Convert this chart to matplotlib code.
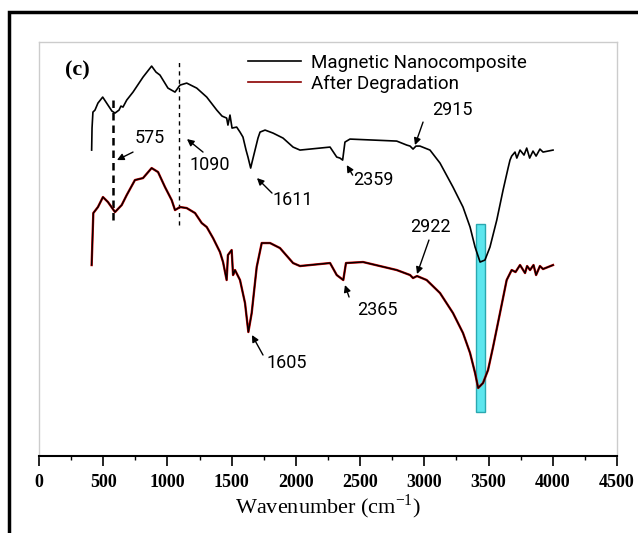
import matplotlib.pyplot as plt
from matplotlib.patches import Rectangle
from matplotlib.ticker import MultipleLocator

plt.rcParams['mathtext.fontset'] = 'custom'
plt.rcParams['mathtext.rm'] = 'Liberation Serif'

# Magnetic Nanocomposite (upper trace)
wn_mag = [410, 413, 420, 436, 459, 496, 537, 568, 592, 623, 638, 654, 683, 732, 810, 877, 911,
          942, 1004, 1059, 1098, 1150, 1228, 1306, 1384, 1425, 1461, 1471, 1487, 1503, 1539,
          1565, 1588, 1612, 1627, 1648, 1659, 1682, 1705, 1721, 1760, 1822, 1900, 1978, 2032,
          2266, 2318, 2343, 2364, 2382, 2421, 2785, 2863, 2889, 2912, 2935, 2966, 3044, 3122,
          3223, 3301, 3356, 3395, 3434, 3472, 3511, 3564, 3613, 3652, 3667, 3680, 3706, 3720,
          3745, 3776, 3797, 3820, 3846, 3870, 3900, 3924, 4002]
t_mag = [306, 328, 344, 346, 353, 359, 351, 345, 343, 346, 350, 349, 356, 364, 379, 390, 384,
         381, 368, 364, 371, 373, 368, 359, 346, 340, 338, 331, 341, 328, 329,
         324, 319, 306, 299, 288, 294, 306, 318, 324, 326, 323, 318, 309, 306,
         309, 299, 298, 296, 314, 317, 315, 311, 310, 307, 310, 310, 306, 293,
         269, 249, 229, 209, 194, 196, 209, 236, 266, 288, 296, 300, 304, 298,
         306, 301, 308, 298, 305, 300, 307, 304, 306]

# After Degradation (lower trace)
wn_deg = [410, 418, 423, 459, 498, 537, 592, 644, 683, 747, 810, 877, 927, 981, 1033, 1059,
          1098, 1150, 1215, 1267, 1306, 1355, 1409, 1433, 1461, 1471, 1500, 1511, 1526, 1565,
          1604, 1630, 1656, 1695, 1734, 1799, 1876, 1978, 2032, 2266, 2318, 2369, 2390, 2523,
          2785, 2889, 2912, 2943, 3018, 3122, 3223, 3301, 3356, 3395, 3419, 3457, 3496, 3535,
          3589, 3641, 3680, 3710, 3745, 3784, 3800, 3823, 3850, 3870, 3900, 3924, 4002]
t_deg = [191, 223, 243, 249, 259, 254, 244, 251, 261, 276, 278, 288, 284, 269, 256, 246,
         249, 248, 243, 233, 229, 218, 204, 194, 176, 201, 206, 181, 186, 176,
         153, 124, 143, 189, 213, 213, 208, 193, 190, 193, 181, 176, 193, 194,
         186, 181, 178, 180, 176, 163, 143, 123, 103, 83, 68, 73, 86, 109,
         143, 176, 186, 184, 191, 183, 190, 186, 191, 181, 190, 187, 191]

# peak labels: text, text position, arrow tail, arrow head
peaks = [
    ("575", (864, 318), (732, 304), (607, 296)),
    ("1090", (1331, 291), (1277, 304), (1152, 317)),
    ("1611", (1978, 256), (1814, 263), (1697, 278)),
    ("2359", (2600, 276), (2442, 281), (2396, 291)),
    ("2915", (3215, 346), (2990, 334), (2927, 311)),
    ("2922", (3044, 229), (3036, 216), (2943, 182)),
    ("2365", (2632, 146), (2414, 159), (2382, 171)),
    ("1605", (1931, 93), (1744, 101), (1658, 121)),
]

fig = plt.figure(figsize=(6.38, 5.33), dpi=100)
ax = fig.add_axes([0.0611, 0.1445, 0.906, 0.7765])

ax.plot(wn_mag, t_mag, color='black', lw=1.2, label='Magnetic Nanocomposite', zorder=3)
ax.plot(wn_deg, t_deg, color='#d00000', lw=1.7, zorder=3)
ax.plot(wn_deg, t_deg, color='black', lw=1.0, zorder=4)
ax.plot([], [], color='#8b0000', lw=1.2, label='After Degradation')

# cyan band at the O-H stretch
ax.add_patch(Rectangle((3400, 44), 75, 188, facecolor='#5ce6ee', edgecolor='#2aa8b0',
                       lw=1, zorder=2))

# dashed guides
ax.plot([575, 575], [236, 356], color='black', ls=(0, (3, 2)), lw=1.8, zorder=2)
ax.plot([1090, 1090], [231, 394], color='black', ls=(0, (3, 3)), lw=1.0, zorder=2)

for txt, tpos, tail, head in peaks:
    ax.annotate('', xy=head, xytext=tail,
                arrowprops=dict(arrowstyle='-|>', color='black', lw=1.0,
                                mutation_scale=10, shrinkA=0, shrinkB=0))
    ax.text(tpos[0], tpos[1], txt, fontsize=13, family='Roboto',
            ha='center', va='center')

ax.text(0.045, 0.932, '(c)', transform=ax.transAxes, fontsize=16, family='Liberation Serif',
        fontweight='bold', ha='left', va='center')

leg = ax.legend(loc='upper left', bbox_to_anchor=(0.329, 1.017), frameon=False,
                handlelength=2.83, handletextpad=0.53, fontsize=13.5, labelspacing=0.15,
                borderpad=0.5)
for t in leg.get_texts():
    t.set_family('Roboto')

ax.set_xlim(0, 4500)
ax.set_ylim(0, 414)
ax.set_yticks([])
ax.xaxis.set_major_locator(MultipleLocator(500))
ax.xaxis.set_minor_locator(MultipleLocator(250))
ax.tick_params(axis='x', which='major', direction='out', length=7, width=1.2, pad=6)
ax.tick_params(axis='x', which='minor', direction='out', length=3, width=1)
for lab in ax.get_xticklabels():
    lab.set_family('Liberation Serif')
    lab.set_fontweight('bold')
    lab.set_fontsize(13)
for s in ['left', 'top', 'right']:
    ax.spines[s].set_color('#cccccc')
    ax.spines[s].set_linewidth(1)
ax.spines['bottom'].set_linewidth(1.5)

ax.set_xlabel('Wavenumber (cm$^{-1}$)', family='Liberation Serif', fontsize=16, labelpad=1)

# outer black frame (cropped at right and bottom)
fig.patches.append(Rectangle((9 / 638, -0.1), 1.2, 1.1 - 12 / 533, transform=fig.transFigure,
                             fill=False, edgecolor='black', lw=2.5))

fig.savefig('out.png', dpi=100)
